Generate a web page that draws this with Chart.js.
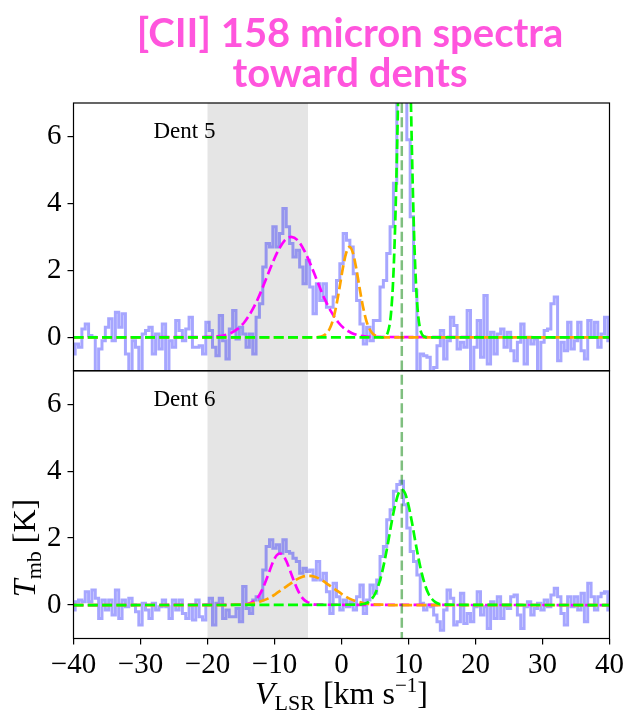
<!DOCTYPE html>
<html>
<head>
<meta charset="utf-8">
<script src="https://cdn.jsdelivr.net/npm/chart.js@4.4.1/dist/chart.umd.min.js"></script>
<style>
  body { margin: 0; background: #fff; }
  canvas { display: block; }
</style>
</head>
<body>
<canvas id="spectra" width="627" height="712"></canvas>
<script>
// channel velocities (km/s), shared by both spectra
const velocity = [
  -40,-39.5,-39,-38.5,-38,-37.5,-37,-36.5,-36,-35.5,
  -35,-34.5,-34,-33.5,-33,-32.5,-32,-31.5,-31,-30.5,
  -30,-29.5,-29,-28.5,-28,-27.5,-27,-26.5,-26,-25.5,
  -25,-24.5,-24,-23.5,-23,-22.5,-22,-21.5,-21,-20.5,
  -20,-19.5,-19,-18.5,-18,-17.5,-17,-16.5,-16,-15.5,
  -15,-14.5,-14,-13.5,-13,-12.5,-12,-11.5,-11,-10.5,
  -10,-9.5,-9,-8.5,-8,-7.5,-7,-6.5,-6,-5.5,
  -5,-4.5,-4,-3.5,-3,-2.5,-2,-1.5,-1,-0.5,
  0,0.5,1,1.5,2,2.5,3,3.5,4,4.5,
  5,5.5,6,6.5,7,7.5,8,8.5,9,9.5,
  10,10.5,11,11.5,12,12.5,13,13.5,14,14.5,
  15,15.5,16,16.5,17,17.5,18,18.5,19,19.5,
  20,20.5,21,21.5,22,22.5,23,23.5,24,24.5,
  25,25.5,26,26.5,27,27.5,28,28.5,29,29.5,
  30,30.5,31,31.5,32,32.5,33,33.5,34,34.5,
  35,35.5,36,36.5,37,37.5,38,38.5,39,39.5,
  40
];

// T_mb (K)
const dent5Spectrum = [
  -0.5, -0.2, -0.3, 0.25, 0.4, 0.05, 0.0, -1.05, -0.35, -0.1,
  0.3, 0.55, -0.1, 0.75, 0.3, 0.7, -0.5, -1.05, -0.1, -0.3,
  -1.05, 0.1, 0.2, 0.3, -0.5, 0.1, -0.35, 0.4, -1.05, -0.1,
  -0.3, 0.5, 0.2, -0.1, 0.25, 0.6, -0.3, -0.3, -0.25, -0.5,
  0.45, 0.2, -0.3, -0.55, 0.65, -0.1, -0.65, 0.25, 0.8, -0.05,
  0.3, 0.1, -0.3, 0.1, -0.5, 0.6, 1.0, 2.1, 2.8, 2.7,
  3.3, 2.7, 3.1, 3.85, 3.3, 2.8, 2.4, 2.6, 2.1, 1.6,
  2.3, 1.5, 0.7, 1.6, 1.1, 1.6, 0.9, 0.9, 1.2, 1.7,
  2.2, 3.1, 2.9, 2.7, 1.9, 1.1, 0.4, -0.2, 0.3, -0.1,
  0.5, 0.5, 1.5, 1.7, 2.5, 3.3, 4.6, 7.5, 9.0, 9.0,
  5.9, 3.6, 1.4, -1.3, -0.5, -0.55, -0.6, -1.05, -0.9, -0.25,
  0.2, -0.65, -0.1, 0.6, 0.35, -0.35, -0.15, -0.3, 0.8, -1.05,
  -0.3, 0.5, -0.6, 1.25, -0.8, 0.15, -0.5, 0.1, 0.25, -0.3,
  0.15, -0.4, -0.7, -0.15, 0.4, -0.8, 0.0, -0.2, -0.05, -1.05,
  -0.15, 0.2, 0.25, 1.0, 1.2, -0.7, -0.15, -0.4, 0.45, -0.35,
  -0.1, 0.45, -0.4, -0.65, 0.5, 0.0, 0.45, -0.3, 0.1, 0.6,
  -0.1
];

const dent6Spectrum = [
  -0.15, 0.1, 0.15, 0.1, 0.4, 0.1, 0.45, 0.2, -0.4, 0.15,
  -0.15, 0.15, -0.3, 0.45, -0.4, 0.15, -0.05, 0.2, 0.0, -0.2,
  -0.6, 0.05, -0.15, -0.4, 0.05, -0.15, -0.05, 0.15, -0.05, -0.4,
  0.15, -0.15, 0.15, -0.25, -0.4, 0.0, -0.45, 0.15, -0.35, -0.45,
  0.0, 0.2, -0.6, 0.05, 0.2, -0.4, -0.15, -0.35, -0.35, -0.1,
  -0.5, 0.55, -0.1, -0.25, 0.15, 0.25, 0.15, 1.05, 1.75, 1.95,
  1.7, 1.8, 1.55, 1.95, 1.6, 1.55, 1.4, 1.3, 0.95, 1.1,
  1.0, 1.05, 0.75, 1.3, 0.75, 0.95, 0.4, -0.25, 0.65, 0.25,
  -0.15, 0.15, -0.05, 0.1, -0.15, 0.25, 0.6, -0.25, 0.15, 0.6,
  0.35, 0.75, 1.45, 1.75, 2.55, 2.85, 3.4, 3.6, 3.7, 3.0,
  2.3, 1.6, 1.3, 0.9, 0.05, -0.15, 0.0, -0.05, -0.3, -0.5,
  -0.75, -0.15, 0.45, 0.2, -0.6, -0.5, 0.35, -0.55, -0.25, -0.5,
  -0.05, 0.4, -0.3, -0.05, -0.7, 0.1, -0.4, 0.25, -0.4, -0.05,
  -0.1, 0.25, 0.3, -0.3, -0.7, -0.05, 0.1, -0.3, -0.1, 0.05,
  -0.15, 0.15, -0.05, 0.3, 0.5, 0.25, -0.25, -0.6, 0.25, -0.05,
  0.25, -0.15, 0.35, -0.5, 0.65, 0.25, -0.15, 0.25, 0.35, 0.4,
  -0.15
];

// gaussian fit components, sampled along the dashed curves
const dent5MagentaV = [-40, -19.5, -18.5, -17.5, -16.5, -15.5, -14.5, -13.5, -12.5, -11.5, -10.5, -9.5, -8.5, -7.5,
  -6.5, -5.5, -4.5, -3.5, -2.5, -1.5, -0.5, 0.5, 1.5, 2.5, 3.5, 4.5, 40];
const dent5MagentaT = [0, 0.01, 0.03, 0.06, 0.13, 0.25, 0.45, 0.75, 1.14, 1.62, 2.12, 2.57, 2.89, 3.0,
  2.89, 2.57, 2.12, 1.62, 1.14, 0.75, 0.45, 0.25, 0.13, 0.06, 0.03, 0.01, 0];

const dent5OrangeV = [-40, -3.8, -3.3, -2.8, -2.3, -1.8, -1.3, -0.8, -0.3, 0.2, 0.7, 1.2,
  1.7, 2.2, 2.7, 3.2, 3.7, 4.2, 4.7, 5.2, 5.7, 6.2, 40];
const dent5OrangeT = [0, 0, 0.01, 0.04, 0.10, 0.24, 0.50, 0.92, 1.47, 2.06, 2.52, 2.7,
  2.52, 2.06, 1.47, 0.92, 0.50, 0.24, 0.10, 0.04, 0.01, 0, 0];

const dent5GreenV = [-40, 6.15, 6.4, 6.65, 6.9, 7.15, 7.4, 7.65, 7.9, 8.15, 8.4, 8.65, 8.9, 9.15, 9.4,
  9.65, 9.9, 10.15, 10.4, 10.65, 10.9, 11.15, 11.4, 11.65, 11.9, 12.15, 12.4, 12.65, 40];
const dent5GreenT = [0, 0, 0.02, 0.05, 0.14, 0.34, 0.74, 1.47, 2.66, 4.40, 6.64, 9.15, 11.5, 13.2, 13.8,
  13.2, 11.5, 9.15, 6.64, 4.40, 2.66, 1.47, 0.74, 0.34, 0.14, 0.05, 0.02, 0, 0];

const dent6MagentaV = [-40, -14.7, -14.2, -13.7, -13.2, -12.7, -12.2, -11.7, -11.2, -10.7, -10.2, -9.7, -9.2,
  -8.7, -8.2, -7.7, -7.2, -6.7, -6.2, -5.7, -5.2, -4.7, -4.2, -3.7, 40];
const dent6MagentaT = [0, 0.01, 0.02, 0.05, 0.10, 0.18, 0.32, 0.52, 0.77, 1.04, 1.30, 1.48, 1.54,
  1.48, 1.30, 1.04, 0.77, 0.52, 0.32, 0.18, 0.10, 0.05, 0.02, 0.01, 0];

const dent6OrangeV = [-40, -16.9, -15.9, -14.9, -13.9, -12.9, -11.9, -10.9, -9.9, -8.9, -7.9, -6.9, -5.9, -4.9,
  -3.9, -2.9, -1.9, -0.9, 0.1, 1.1, 2.1, 3.1, 4.1, 5.1, 6.1, 7.1, 40];
const dent6OrangeT = [0, 0, 0.01, 0.015, 0.03, 0.065, 0.12, 0.20, 0.32, 0.46, 0.60, 0.74, 0.84, 0.87,
  0.84, 0.74, 0.60, 0.46, 0.32, 0.20, 0.12, 0.065, 0.03, 0.015, 0.01, 0, 0];

const dent6GreenV = [-40, 2.5, 3, 3.5, 4, 4.5, 5, 5.5, 6, 6.5, 7, 7.5, 8, 8.5, 9,
  9.5, 10, 10.5, 11, 11.5, 12, 12.5, 13, 13.5, 14, 14.5, 15, 15.5, 40];
const dent6GreenT = [0, 0.01, 0.02, 0.04, 0.09, 0.18, 0.33, 0.58, 0.93, 1.39, 1.92, 2.49, 2.98, 3.33, 3.45,
  3.33, 2.98, 2.49, 1.92, 1.39, 0.93, 0.58, 0.33, 0.18, 0.09, 0.04, 0.02, 0.01, 0];

const xTicks = [-40, -30, -20, -10, 0, 10, 20, 30, 40];
const yTicks = [0, 2, 4, 6];
const shadedRange = [-20, -5];
const markerVelocity = 9;
const panelNames = ['Dent 5', 'Dent 6'];
const titleLines = ['[CII] 158 micron spectra', 'toward dents'];

const serif = 'Liberation Serif';

function pts(xs, ys) {
  return xs.map((v, i) => ({ x: v, y: ys[i] }));
}

function spectrumSet(xs, ys, axis) {
  return {
    data: pts(xs, ys), yAxisID: axis, order: 4,
    borderColor: 'rgba(0,0,255,0.35)', borderWidth: 3, stepped: 'middle'
  };
}

function fitSet(xs, ys, axis, color, order) {
  return {
    data: pts(xs, ys), yAxisID: axis, order: order,
    borderColor: color, borderWidth: 2.7, borderDash: [10, 4.3],
    cubicInterpolationMode: 'monotone'
  };
}

function drawRich(ctx, parts, x, y) {
  let total = 0;
  parts.forEach(p => { ctx.font = p.font; p.w = ctx.measureText(p.text).width; total += p.w; });
  let cx = x - total / 2;
  parts.forEach(p => {
    ctx.font = p.font;
    ctx.fillText(p.text, cx, y + (p.dy || 0));
    cx += p.w;
  });
}

const decorations = {
  id: 'decorations',
  beforeDatasetsDraw(chart) {
    const { ctx, chartArea: a, scales } = chart;
    const x0 = scales.x.getPixelForValue(shadedRange[0]);
    const x1 = scales.x.getPixelForValue(shadedRange[1]);
    ctx.save();
    ctx.fillStyle = '#e5e5e5';
    ctx.fillRect(x0, a.top, x1 - x0, a.bottom - a.top);
    ctx.restore();
  },
  // keep each panel's lines inside its own panel
  beforeDatasetDraw(chart, args) {
    const ds = chart.data.datasets[args.index];
    const s = chart.scales[ds.yAxisID];
    const a = chart.chartArea;
    chart.ctx.save();
    chart.ctx.beginPath();
    chart.ctx.rect(a.left, s.top, a.right - a.left, s.bottom - s.top);
    chart.ctx.clip();
  },
  afterDatasetDraw(chart) {
    chart.ctx.restore();
  },
  afterDatasetsDraw(chart) {
    const { ctx, chartArea: a, scales } = chart;
    const xm = scales.x.getPixelForValue(markerVelocity);
    ctx.save();
    ctx.strokeStyle = 'rgba(0,128,0,0.5)';
    ctx.lineWidth = 2.5;
    ctx.setLineDash([10, 4.3]);
    ctx.beginPath();
    ctx.moveTo(xm, a.top);
    ctx.lineTo(xm, a.bottom);
    ctx.stroke();
    ctx.restore();
  },
  afterDraw(chart) {
    const { ctx, chartArea: a, scales } = chart;
    ctx.save();
    ctx.strokeStyle = '#000';
    ctx.lineWidth = 1.2;
    [scales.yTop, scales.yBottom].forEach((s, i) => {
      ctx.strokeRect(a.left, s.top, a.right - a.left, s.bottom - s.top);
      ctx.fillStyle = '#000';
      ctx.font = '23px ' + serif;
      ctx.textAlign = 'left';
      ctx.textBaseline = 'alphabetic';
      ctx.fillText(panelNames[i], a.left + 80, s.top + 35);
    });

    // axis labels
    ctx.textAlign = 'left';
    drawRich(ctx, [
      { text: 'V', font: 'italic 32px ' + serif },
      { text: 'LSR', font: '22px ' + serif, dy: 6 },
      { text: ' [km s', font: '32px ' + serif },
      { text: '\u22121', font: '21px ' + serif, dy: -12 },
      { text: ']', font: '32px ' + serif }
    ], (a.left + a.right) / 2, 704);

    ctx.save();
    ctx.translate(35, 548);
    ctx.rotate(-Math.PI / 2);
    drawRich(ctx, [
      { text: 'T', font: 'italic 32px ' + serif },
      { text: 'mb', font: '22px ' + serif, dy: 6 },
      { text: ' [K]', font: '32px ' + serif }
    ], 0, 0);
    ctx.restore();

    // title
    ctx.fillStyle = '#ff55dd';
    ctx.font = 'bold 40px Lato';
    ctx.textAlign = 'center';
    ctx.fillText(titleLines[0], 350, 47);
    ctx.fillText(titleLines[1], 350, 87);
    ctx.restore();
  }
};

function yAxis() {
  return {
    type: 'linear', position: 'left', stack: 'panels', stackWeight: 1,
    min: -1, max: 7,
    afterBuildTicks: s => { s.ticks = yTicks.map(v => ({ value: v })); },
    afterFit: s => { s.width = 73.5; },
    border: { display: false },
    grid: { drawOnChartArea: false, drawTicks: true, tickLength: 6, color: '#000', lineWidth: 1.2 },
    ticks: { color: '#000', padding: 6, font: { family: serif, size: 29 } }
  };
}

new Chart(document.getElementById('spectra'), {
  type: 'line',
  data: {
    datasets: [
      spectrumSet(velocity, dent5Spectrum, 'yTop'),
      fitSet(dent5MagentaV, dent5MagentaT, 'yTop', '#ff00ff', 3),
      fitSet(dent5OrangeV, dent5OrangeT, 'yTop', '#ffa500', 2),
      fitSet(dent5GreenV, dent5GreenT, 'yTop', '#00ff00', 1),
      spectrumSet(velocity, dent6Spectrum, 'yBottom'),
      fitSet(dent6MagentaV, dent6MagentaT, 'yBottom', '#ff00ff', 3),
      fitSet(dent6OrangeV, dent6OrangeT, 'yBottom', '#ffa500', 2),
      fitSet(dent6GreenV, dent6GreenT, 'yBottom', '#00ff00', 1)
    ]
  },
  options: {
    responsive: false,
    animation: false,
    devicePixelRatio: 1,
    layout: { padding: { top: 103, right: 14.3, left: 0, bottom: 0 } },
    elements: { point: { radius: 0 }, line: { tension: 0 } },
    plugins: { legend: { display: false }, tooltip: { enabled: false }, title: { display: false } },
    scales: {
      x: {
        type: 'linear', position: 'bottom', min: -40, max: 40,
        afterBuildTicks: s => { s.ticks = xTicks.map(v => ({ value: v })); },
        afterFit: s => { s.height = 73.5; },
        border: { display: false },
        grid: { drawOnChartArea: false, drawTicks: true, tickLength: 6, color: '#000', lineWidth: 1.2 },
        ticks: {
          color: '#000', padding: 3, maxRotation: 0, font: { family: serif, size: 29 },
          callback: v => v < 0 ? '\u2212' + Math.abs(v) : String(v)
        }
      },
      // later axis in the stack is placed on top
      yBottom: yAxis(),
      yTop: yAxis()
    }
  },
  plugins: [decorations]
});
</script>
</body>
</html>
